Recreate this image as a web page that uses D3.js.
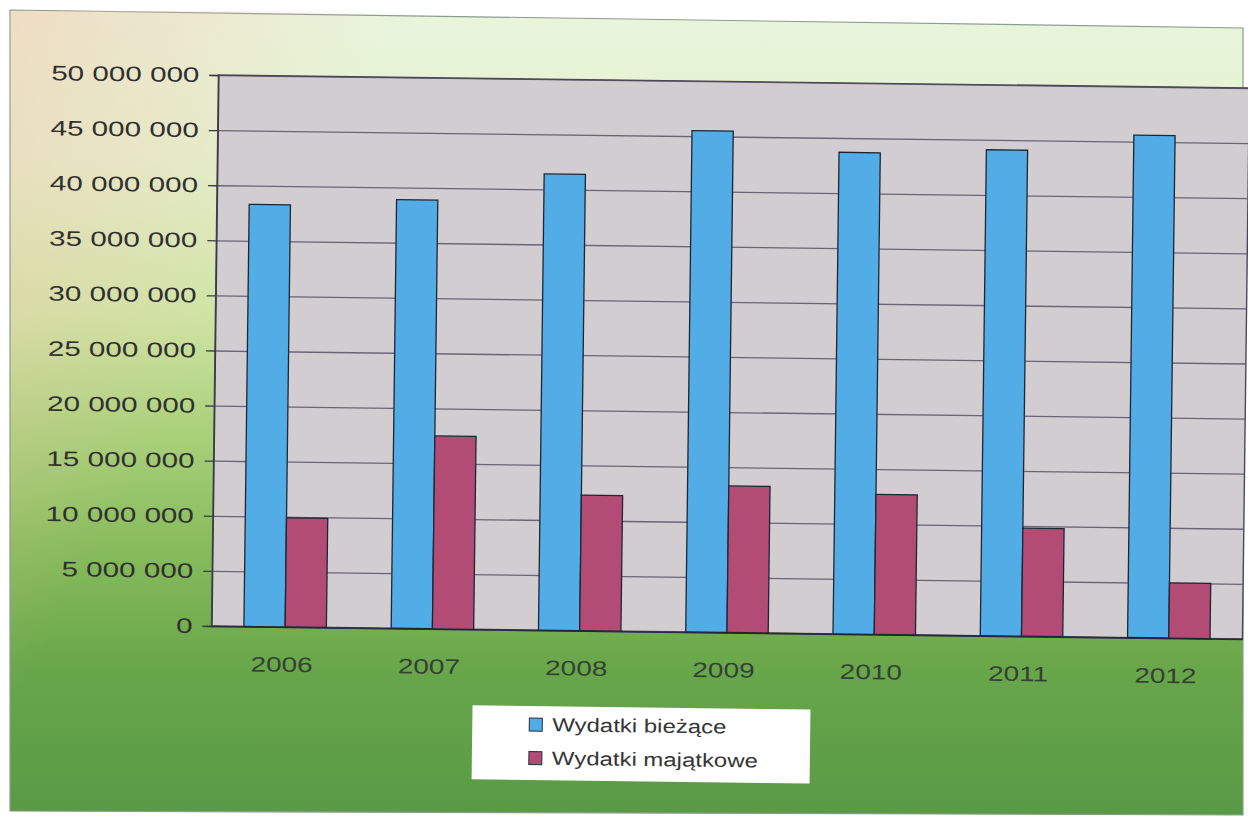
<!DOCTYPE html>
<html>
<head>
<meta charset="utf-8">
<script src="https://cdn.jsdelivr.net/npm/d3@7"></script>
<style>
  html, body { margin: 0; padding: 0; background: #fff; }
  svg { display: block; }
</style>
</head>
<body>
<div id="chart"></div>
<script>
const years = ["2006", "2007", "2008", "2009", "2010", "2011", "2012"];
const seriesNames = ["Wydatki bieżące", "Wydatki majątkowe"];
const biezace = [38300000, 38900000, 41400000, 45500000, 43700000, 44100000, 45600000];
const majatkowe = [9900000, 17500000, 12300000, 13300000, 12700000, 9800000, 5000000];
const yTicks = [0, 5000000, 10000000, 15000000, 20000000, 25000000, 30000000, 35000000, 40000000, 45000000, 50000000];

const colors = ["#52ade6", "#b24c74"];
const width = 1248;
const height = 819;

// plot area (before the small scan tilt is applied)
const plotLeft = 215, plotTop = 75;
const plotW = 1031, plotH = 551;
const tilt = 0.72; // degrees, the scanned page is slightly rotated

const table = years.map((yr, i) => ({ year: yr, values: [biezace[i], majatkowe[i]] }));

const svg = d3
  .select("#chart")
  .append("svg")
  .attr("width", width)
  .attr("height", height);

const defs = svg.append("defs");
const bg = defs.append("linearGradient").attr("id", "bg")
  .attr("x1", 0).attr("y1", 0).attr("x2", 0).attr("y2", 1);
[["0%", "#e9f5dc"], ["18%", "#e4f1cd"], ["38%", "#cfe4a4"], ["52%", "#abd17c"],
 ["66%", "#89bd5d"], ["82%", "#68a64a"], ["100%", "#589a45"]]
  .forEach(([o, c]) => bg.append("stop").attr("offset", o).attr("stop-color", c));

const peach = defs.append("linearGradient").attr("id", "peach")
  .attr("x1", 0).attr("y1", 0).attr("x2", 1).attr("y2", 1);
peach.append("stop").attr("offset", "0%").attr("stop-color", "#f4c0a8").attr("stop-opacity", 0.45);
peach.append("stop").attr("offset", "50%").attr("stop-color", "#f4c0a8").attr("stop-opacity", 0);

// chart background as scanned (slightly keystoned)
svg.append("path")
  .attr("d", "M10,10 L1243,28 L1243,815 L10,811 Z")
  .attr("fill", "url(#bg)")
  .attr("stroke", "#8c9c90")
  .attr("stroke-width", 1.2);
svg.append("rect")
  .attr("x", 11).attr("y", 11).attr("width", 380).attr("height", 700)
  .attr("fill", "url(#peach)");

const g = svg.append("g")
  .attr("transform", `translate(-3.5, 0) rotate(${tilt}, ${plotLeft}, ${plotTop + plotH}) translate(${plotLeft}, ${plotTop})`);

const x0 = d3.scaleBand().domain(years).range([0, plotW]).paddingInner(0.44).paddingOuter(0.22);
const x1 = d3.scaleBand().domain([0, 1]).range([0, x0.bandwidth()]);
const y = d3.scaleLinear().domain([0, 50000000]).range([plotH, 0]);

g.append("rect")
  .attr("width", plotW).attr("height", plotH)
  .attr("fill", "#d1cdd0");

// gridlines
g.append("g")
  .call(d3.axisLeft(y).tickValues(yTicks).tickSize(-plotW).tickFormat(""))
  .call(s => s.select(".domain").remove())
  .call(s => s.selectAll("line").attr("stroke", "#6a6478").attr("stroke-width", 1.3));

g.append("rect")
  .attr("width", plotW).attr("height", plotH)
  .attr("fill", "none")
  .attr("stroke", "#4a4856")
  .attr("stroke-width", 1.4);

const fmt = d => d3.format(",")(d).replace(/,/g, " ");

// y axis labels + outer ticks
const yAxis = g.append("g")
  .call(d3.axisLeft(y).tickValues(yTicks).tickSize(9).tickPadding(10).tickFormat(fmt));
yAxis.select(".domain").attr("stroke", "#3a3a44").attr("stroke-width", 1.4);
yAxis.selectAll("line").attr("stroke", "#3a3a44").attr("stroke-width", 1.3);
yAxis.selectAll("text")
  .attr("fill", "#303030")
  .style("font-family", "'Liberation Sans', Arial, sans-serif")
  .style("font-size", "21px")
  .each(function () {
    d3.select(this).attr("textLength", this.getComputedTextLength() * 1.41).attr("lengthAdjust", "spacingAndGlyphs");
  });

// x axis
const xAxis = g.append("g")
  .attr("transform", `translate(0, ${plotH})`)
  .call(d3.axisBottom(x0).tickSize(0).tickPadding(30));
xAxis.select(".domain").attr("stroke", "#2a2a3a").attr("stroke-width", 1.6);
xAxis.selectAll("text")
  .attr("fill", "#354035")
  .attr("dx", -3)
  .style("font-family", "'Liberation Sans', Arial, sans-serif")
  .style("font-size", "21px")
  .each(function () {
    d3.select(this).attr("textLength", this.getComputedTextLength() * 1.33).attr("lengthAdjust", "spacingAndGlyphs");
  });

// bars
g.append("g")
  .selectAll("g")
  .data(table)
  .join("g")
  .attr("transform", d => `translate(${x0(d.year)}, 0)`)
  .selectAll("rect")
  .data(d => d.values.map((v, i) => ({ i, v })))
  .join("rect")
  .attr("x", d => x1(d.i))
  .attr("y", d => y(d.v))
  .attr("width", x1.bandwidth())
  .attr("height", d => plotH - y(d.v))
  .attr("fill", d => colors[d.i])
  .attr("stroke", "#1e2634")
  .attr("stroke-width", 1.3);

// legend
const legend = g.append("g").attr("transform", `translate(${477 - plotLeft}, ${702 - plotTop})`);
legend.append("rect")
  .attr("width", 338).attr("height", 74)
  .attr("fill", "#ffffff");
seriesNames.forEach((name, i) => {
  const row = legend.append("g").attr("transform", `translate(57, ${12 + i * 33.5})`);
  row.append("rect")
    .attr("width", 13).attr("height", 13)
    .attr("fill", colors[i])
    .attr("stroke", "#2a2a3a")
    .attr("stroke-width", 1);
  row.append("text")
    .attr("x", 23).attr("y", 13)
    .attr("fill", "#353535")
    .style("font-family", "'Liberation Sans', Arial, sans-serif")
    .style("font-size", "19px")
    .text(name)
    .each(function () {
      d3.select(this).attr("textLength", this.getComputedTextLength() * 1.26).attr("lengthAdjust", "spacingAndGlyphs");
    });
});
</script>
</body>
</html>
